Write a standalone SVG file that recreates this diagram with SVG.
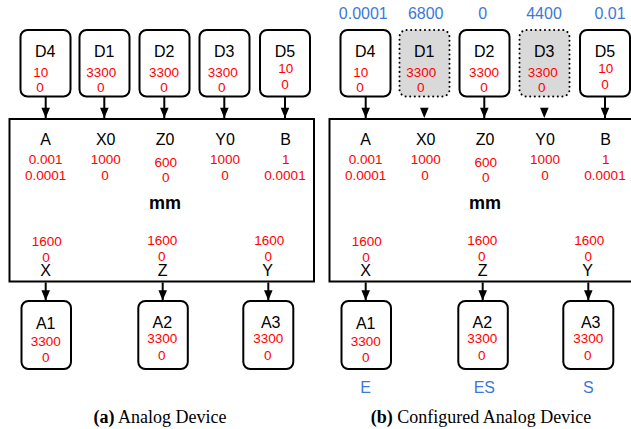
<svg xmlns="http://www.w3.org/2000/svg" width="631" height="429" viewBox="0 0 631 429">
<style>
.box{fill:#fff;stroke:#000;stroke-width:2}
.gbox{fill:#d9d9d9;stroke:#000;stroke-width:2;stroke-dasharray:0.1 4.5;stroke-linecap:round}
.main{fill:#fff;stroke:#000;stroke-width:2}
.lbl{font-family:"Liberation Sans",Arial,sans-serif;font-size:16px;fill:#000;text-anchor:middle}
.red{font-family:"Liberation Sans",Arial,sans-serif;font-size:13.5px;fill:#ff0000;text-anchor:middle}
.blue{font-family:"Liberation Sans",Arial,sans-serif;font-size:16px;fill:#3c78d8;text-anchor:middle}
.mm{font-family:"Liberation Sans",Arial,sans-serif;font-size:18px;font-weight:bold;fill:#000;text-anchor:middle}
.cap{font-family:"Liberation Serif","Times New Roman",serif;font-size:18px;fill:#000;text-anchor:middle}
.conn line{stroke:#000;stroke-width:2}
</style>
<defs>
<marker id="ah" markerUnits="userSpaceOnUse" markerWidth="12" markerHeight="14" viewBox="0 0 12 14" refX="6" refY="13" orient="auto-start-reverse">
<path d="M1,1 L11,1 L6,13 Z" fill="#000"/>
</marker>
<marker id="ahd" markerUnits="userSpaceOnUse" markerWidth="12" markerHeight="14" viewBox="-1 0 14 14" refX="13" refY="6" orient="auto">
<path d="M1,1 L13,6 L1,11 Z" fill="#000"/>
</marker>
</defs>

<!-- ===== Panel (a) ===== -->
<g id="a-main"><rect class="main" x="9.5" y="119" width="304.5" height="162.5"/>
<text class="lbl" x="45.7" y="145">A</text><text class="red" x="45.7" y="164">0.001</text><text class="red" x="45.7" y="180">0.0001</text>
<text class="lbl" x="105.7" y="145">X0</text><text class="red" x="105.7" y="164">1000</text><text class="red" x="105" y="180">0</text>
<text class="lbl" x="165" y="145">Z0</text><text class="red" x="165.7" y="166.5">600</text><text class="red" x="165.7" y="182">0</text>
<text class="lbl" x="225" y="145">Y0</text><text class="red" x="225" y="164">1000</text><text class="red" x="225" y="180">0</text>
<text class="lbl" x="285.7" y="145">B</text><text class="red" x="285.7" y="164">1</text><text class="red" x="285" y="180">0.0001</text>
<text class="mm" x="165" y="209">mm</text>
<text class="red" x="46.7" y="245.5">1600</text><text class="red" x="46" y="261.5">0</text><text class="lbl" x="45.7" y="276">X</text>
<text class="red" x="162.3" y="245">1600</text><text class="red" x="161.7" y="260.7">0</text><text class="lbl" x="162.7" y="276">Z</text>
<text class="red" x="269.3" y="245">1600</text><text class="red" x="268.3" y="260.7">0</text><text class="lbl" x="267.7" y="276">Y</text>
</g>
<g id="a-D4"><rect class="box" x="20.5" y="30" width="50" height="66.5" rx="7"/><text class="lbl" x="45.3" y="57">D4</text><text class="red" x="40.7" y="76.5">10</text><text class="red" x="40" y="91.5">0</text></g>
<g id="a-D1"><rect class="box" x="79.5" y="30" width="50" height="66.5" rx="7"/><text class="lbl" x="104.3" y="57">D1</text><text class="red" x="101.3" y="76.5">3300</text><text class="red" x="100.7" y="91.5">0</text></g>
<g id="a-D2"><rect class="box" x="139.5" y="30" width="50" height="66.5" rx="7"/><text class="lbl" x="164.3" y="57">D2</text><text class="red" x="164" y="76.5">3300</text><text class="red" x="164" y="91.5">0</text></g>
<g id="a-D3"><rect class="box" x="199.5" y="30" width="50" height="66.5" rx="7"/><text class="lbl" x="224.3" y="57">D3</text><text class="red" x="222.7" y="76.5">3300</text><text class="red" x="221.7" y="91.5">0</text></g>
<g id="a-D5"><rect class="box" x="260" y="30" width="50" height="66.5" rx="7"/><text class="lbl" x="285" y="57">D5</text><text class="red" x="285.7" y="73.3">10</text><text class="red" x="285" y="89.3">0</text></g>
<g id="a-A1"><rect class="box" x="21.5" y="301" width="49.5" height="68" rx="7"/><text class="lbl" x="45.7" y="329">A1</text><text class="red" x="45.7" y="346">3300</text><text class="red" x="45.7" y="361.5">0</text></g>
<g id="a-A2"><rect class="box" x="138.3" y="301" width="49.5" height="68" rx="7"/><text class="lbl" x="162.3" y="328">A2</text><text class="red" x="162.3" y="342.5">3300</text><text class="red" x="161.7" y="359.5">0</text></g>
<g id="a-A3"><rect class="box" x="243.3" y="301" width="50" height="68" rx="7"/><text class="lbl" x="270.7" y="328">A3</text><text class="red" x="268.3" y="342.5">3300</text><text class="red" x="267.7" y="359.5">0</text></g>
<g class="conn" id="a-conn">
<line x1="45.7" y1="96.5" x2="45.7" y2="118" marker-end="url(#ahd)"/>
<line x1="104.3" y1="96.5" x2="104.3" y2="118" marker-end="url(#ahd)"/>
<line x1="164.3" y1="96.5" x2="164.3" y2="118" marker-end="url(#ahd)"/>
<line x1="224.3" y1="96.5" x2="224.3" y2="118" marker-end="url(#ahd)"/>
<line x1="285" y1="96.5" x2="285" y2="118" marker-end="url(#ahd)"/>
<line x1="45.7" y1="282.5" x2="45.7" y2="300.5" marker-end="url(#ahd)"/>
<line x1="162.7" y1="282.5" x2="162.7" y2="300.5" marker-end="url(#ahd)"/>
<line x1="268.3" y1="282.5" x2="268.3" y2="300.5" marker-end="url(#ahd)"/>
</g>
<text class="cap" x="160" y="423"><tspan font-weight="bold">(a)</tspan> Analog Device</text>

<!-- ===== Panel (b) ===== -->
<g id="b-main"><rect class="main" x="329.5" y="119" width="304.5" height="162.5"/>
<text class="lbl" x="365.7" y="145">A</text><text class="red" x="365.7" y="164">0.001</text><text class="red" x="365.7" y="180">0.0001</text>
<text class="lbl" x="425.7" y="145">X0</text><text class="red" x="425.7" y="164">1000</text><text class="red" x="425" y="180">0</text>
<text class="lbl" x="485" y="145">Z0</text><text class="red" x="485.7" y="166.5">600</text><text class="red" x="485.7" y="182">0</text>
<text class="lbl" x="545" y="145">Y0</text><text class="red" x="545" y="164">1000</text><text class="red" x="545" y="180">0</text>
<text class="lbl" x="605.7" y="145">B</text><text class="red" x="605.7" y="164">1</text><text class="red" x="605" y="180">0.0001</text>
<text class="mm" x="485" y="209">mm</text>
<text class="red" x="366.7" y="245.5">1600</text><text class="red" x="366" y="261.5">0</text><text class="lbl" x="365.7" y="276">X</text>
<text class="red" x="482.3" y="245">1600</text><text class="red" x="481.7" y="260.7">0</text><text class="lbl" x="482.7" y="276">Z</text>
<text class="red" x="589.3" y="245">1600</text><text class="red" x="588.3" y="260.7">0</text><text class="lbl" x="587.7" y="276">Y</text>
</g>
<g id="b-D4"><text class="blue" x="363.3" y="19">0.0001</text><rect class="box" x="340.5" y="30" width="50" height="66.5" rx="7"/><text class="lbl" x="365.3" y="57">D4</text><text class="red" x="360.7" y="76.5">10</text><text class="red" x="360" y="91.5">0</text></g>
<g id="b-D1"><text class="blue" x="425.7" y="19">6800</text><rect class="gbox" x="399.5" y="30" width="50" height="66.5" rx="7"/><text class="lbl" x="424.3" y="57">D1</text><text class="red" x="421.3" y="76.5">3300</text><text class="red" x="420.7" y="91.5">0</text></g>
<g id="b-D2"><text class="blue" x="482.7" y="19">0</text><rect class="box" x="459.5" y="30" width="50" height="66.5" rx="7"/><text class="lbl" x="484.3" y="57">D2</text><text class="red" x="484" y="76.5">3300</text><text class="red" x="484" y="91.5">0</text></g>
<g id="b-D3"><text class="blue" x="544" y="19">4400</text><rect class="gbox" x="519.5" y="30" width="50" height="66.5" rx="7"/><text class="lbl" x="544.3" y="57">D3</text><text class="red" x="542.7" y="76.5">3300</text><text class="red" x="541.7" y="91.5">0</text></g>
<g id="b-D5"><text class="blue" x="610" y="19">0.01</text><rect class="box" x="580" y="30" width="50" height="66.5" rx="7"/><text class="lbl" x="605" y="57">D5</text><text class="red" x="605.7" y="73.3">10</text><text class="red" x="605" y="89.3">0</text></g>
<g id="b-A1"><rect class="box" x="341.5" y="301" width="49.5" height="68" rx="7"/><text class="lbl" x="365.7" y="329">A1</text><text class="red" x="365.7" y="346">3300</text><text class="red" x="365.7" y="361.5">0</text><text class="blue" x="365.7" y="393.3">E</text></g>
<g id="b-A2"><rect class="box" x="458.3" y="301" width="49.5" height="68" rx="7"/><text class="lbl" x="482.3" y="328">A2</text><text class="red" x="482.3" y="342.5">3300</text><text class="red" x="481.7" y="359.5">0</text><text class="blue" x="484.3" y="393.3">ES</text></g>
<g id="b-A3"><rect class="box" x="563.3" y="301" width="50" height="68" rx="7"/><text class="lbl" x="590.7" y="328">A3</text><text class="red" x="588.3" y="342.5">3300</text><text class="red" x="587.7" y="359.5">0</text><text class="blue" x="588.3" y="393.3">S</text></g>
<g class="conn" id="b-conn">
<line x1="365.7" y1="96.5" x2="365.7" y2="118" marker-end="url(#ahd)"/>
<line x1="424.3" y1="105" x2="424.3" y2="118" stroke="none" style="stroke:none" marker-end="url(#ahd)"/>
<line x1="484.3" y1="96.5" x2="484.3" y2="118" marker-end="url(#ahd)"/>
<line x1="544.3" y1="105" x2="544.3" y2="118" style="stroke:none" marker-end="url(#ahd)"/>
<line x1="605" y1="96.5" x2="605" y2="118" marker-end="url(#ahd)"/>
<line x1="365.7" y1="282.5" x2="365.7" y2="300.5" marker-end="url(#ahd)"/>
<line x1="482.7" y1="282.5" x2="482.7" y2="300.5" marker-end="url(#ahd)"/>
<line x1="588.3" y1="282.5" x2="588.3" y2="300.5" marker-end="url(#ahd)"/>
</g>
<text class="cap" x="481" y="423"><tspan font-weight="bold">(b)</tspan> Configured Analog Device</text>
</svg>
